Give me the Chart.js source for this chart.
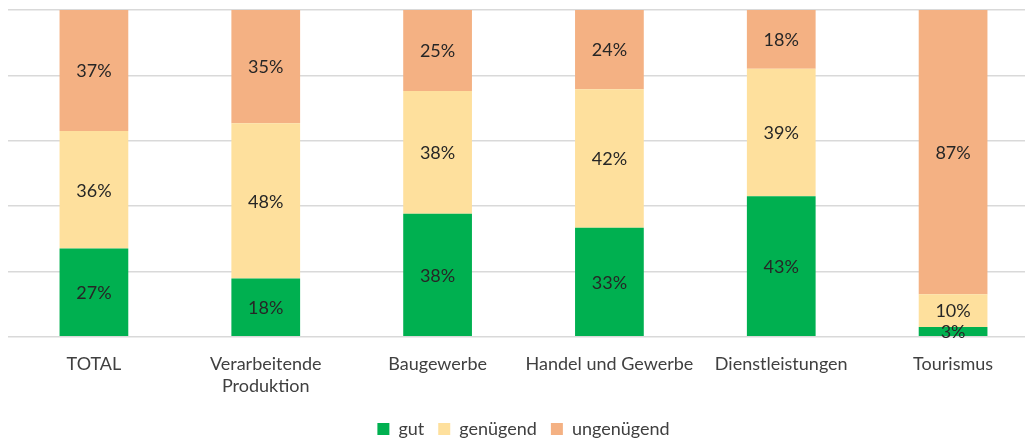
<!DOCTYPE html>
<html><head><meta charset="utf-8">
<script src="https://cdn.jsdelivr.net/npm/chart.js@4"></script>
<style>html,body{margin:0;padding:0;overflow:hidden;background:#fff;width:1025px;height:441px}</style>
</head><body>
<canvas id="c" width="1040" height="441"></canvas>
<script>
const categories = ["TOTAL", ["Verarbeitende","Produktion"], "Baugewerbe", "Handel und Gewerbe", "Dienstleistungen", "Tourismus"];
const seriesNames = ["gut", "genügend", "ungenügend"];
const gut = [27, 18, 38, 33, 43, 3];
const genuegend = [36, 48, 38, 42, 39, 10];
const ungenuegend = [37, 35, 25, 24, 18, 87];
const colors = ["#00b050", "#fee09d", "#f4b183"];
const FONT = "Lato, 'Open Sans', sans-serif";

// 100%-stacked: share of each category total (as in the original 100% stacked chart)
const series = [gut, genuegend, ungenuegend];
const totals = categories.map((_, j) => series.reduce((s, arr) => s + arr[j], 0));
const share = arr => arr.map((v, j) => v / totals[j] * 100);

const labelPlugin = {
  id: 'segLabels',
  afterDatasetsDraw(chart) {
    const ctx = chart.ctx;
    ctx.save();
    ctx.font = "18px " + FONT;
    ctx.fillStyle = "#262626";
    ctx.textAlign = "center";
    ctx.textBaseline = "middle";
    chart.data.datasets.forEach((ds, i) => {
      chart.getDatasetMeta(i).data.forEach((bar, j) => {
        const v = series[i][j];
        const y = (bar.y + bar.base) / 2;
        ctx.fillText(v + "%", bar.x, y + 1);
      });
    });
    ctx.restore();
  }
};

new Chart(document.getElementById('c'), {
  type: 'bar',
  data: {
    labels: categories,
    datasets: series.map((arr, i) => ({ label: seriesNames[i], data: share(arr), backgroundColor: colors[i] }))
  },
  options: {
    responsive: false,
    animation: false,
    layout: { padding: { left: 8, right: 1, top: 10, bottom: -7 } },
    datasets: { bar: { categoryPercentage: 1, barPercentage: 0.4 } },
    scales: {
      x: {
        stacked: true,
        grid: { display: false },
        border: { display: false },
        ticks: { color: "#404040", font: { family: FONT, size: 18, lineHeight: 1.2 }, padding: 9, maxRotation: 0, autoSkip: false }
      },
      y: {
        stacked: true,
        min: 0, max: 100,
        ticks: { display: false, stepSize: 20 },
        grid: { color: "#d9d9d9", lineWidth: 1.5, drawTicks: false },
        border: { display: false }
      }
    },
    plugins: {
      legend: {
        position: 'bottom',
        labels: { color: "#404040", font: { family: FONT, size: 18 }, boxWidth: 12, boxHeight: 12, padding: 14 }
      },
      tooltip: { enabled: false }
    }
  },
  plugins: [labelPlugin]
});
</script>
</body></html>
